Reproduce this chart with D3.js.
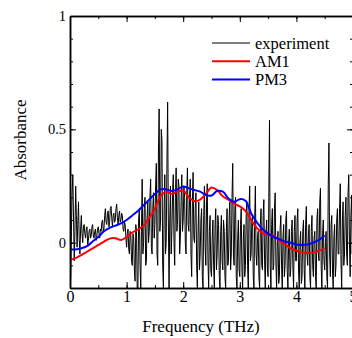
<!doctype html>
<html lang="en">
<head>
  <style>
    body { margin: 0; background: #fff; }
  </style>
  <script src="https://d3js.org/d3.v7.min.js"></script>
</head>
<body>
  <script>
    // experiment: sampled every 0.0125 THz from 0 to 5 (one row = 0.25 THz)
    const expStep = 0.0125;
    const expValues = [
      -0.20, -0.15, 0.05, 0.22, 0.30, 0.10, -0.08, 0.05, 0.25, 0.12, -0.02, 0.08, 0.18, 0.02, -0.05, 0.06, 0.12, 0.04, 0.00, 0.07,
      0.08, 0.04, 0.02, 0.06, 0.07, -0.01, 0.01, 0.05, 0.06, 0.02, 0.03, 0.07, 0.08, 0.03, 0.02, 0.05, 0.06, 0.01, 0.03, 0.06,
      0.07, 0.04, 0.02, 0.06, 0.05, 0.09, 0.10, 0.05, 0.06, 0.12, 0.15, 0.09, 0.08, 0.13, 0.14, 0.07, 0.09, 0.15, 0.16, 0.11,
      0.07, 0.12, 0.13, 0.09, 0.10, 0.15, 0.17, 0.11, 0.08, 0.12, 0.14, 0.09, 0.10, 0.13, 0.12, 0.06, 0.05, 0.09, 0.08, 0.02,
      -0.02, 0.04, 0.06, -0.03, -0.05, 0.05, 0.03, -0.08, -0.10, 0.04, 0.02, -0.12, -0.17, 0.08, 0.05, -0.20, -0.20, 0.10, 0.15, -0.10,
      -0.20, 0.05, 0.28, -0.05, 0.00, 0.15, 0.20, -0.10, -0.08, 0.12, 0.18, 0.00, 0.05, 0.20, 0.28, -0.02, -0.05, 0.15, 0.22, 0.02,
      0.08, 0.25, 0.35, -0.05, -0.10, 0.40, 0.59, 0.05, 0.10, 0.50, 0.45, -0.10, -0.20, 0.15, 0.30, -0.05, 0.00, 0.35, 0.62, 0.10,
      -0.20, 0.10, 0.25, -0.05, 0.05, 0.22, 0.30, 0.00, -0.10, 0.20, 0.33, 0.05, 0.08, 0.28, 0.25, -0.05, 0.02, 0.18, 0.30, 0.05,
      0.10, 0.25, 0.20, 0.00, -0.05, 0.22, 0.33, 0.08, 0.05, 0.20, 0.28, -0.05, -0.15, 0.18, 0.31, 0.02, 0.00, 0.15, 0.22, -0.10,
      -0.20, 0.05, 0.18, -0.12, -0.05, 0.10, 0.15, -0.15, -0.20, 0.12, 0.25, -0.02, -0.10, 0.18, 0.26, -0.08, -0.20, 0.05, 0.12, -0.12,
      -0.15, 0.02, 0.10, -0.10, -0.20, 0.08, 0.15, -0.12, -0.05, 0.12, 0.08, -0.15, -0.20, 0.05, 0.12, -0.08, -0.12, 0.10, 0.05, -0.15,
      -0.20, 0.05, 0.15, -0.10, -0.08, 0.12, 0.18, -0.12, -0.05, 0.20, 0.35, -0.05, -0.10, 0.15, 0.20, -0.15, -0.20, 0.02, 0.10, -0.12,
      -0.15, 0.08, 0.15, -0.12, -0.20, 0.02, 0.08, -0.15, -0.10, 0.12, 0.18, -0.10, -0.20, 0.15, 0.25, -0.08, -0.05, 0.10, 0.12, -0.15,
      -0.20, 0.10, 0.25, -0.05, -0.10, 0.02, 0.05, -0.15, -0.20, 0.08, 0.15, -0.10, -0.12, 0.12, 0.19, -0.08, -0.20, 0.04, 0.10, -0.12,
      -0.15, 0.20, 0.54, -0.10, -0.20, 0.08, 0.15, -0.12, -0.10, 0.15, 0.22, -0.08, -0.20, 0.00, 0.05, -0.18, -0.15, 0.06, 0.12, -0.10,
      -0.20, 0.02, 0.08, -0.15, -0.10, 0.10, 0.14, -0.12, -0.20, 0.00, 0.06, -0.15, -0.12, 0.05, 0.10, -0.10, -0.20, 0.05, 0.12, -0.08,
      -0.08, 0.10, 0.15, -0.12, -0.20, 0.00, 0.05, -0.18, -0.15, 0.05, 0.10, -0.12, -0.20, 0.08, 0.16, -0.05, -0.10, 0.04, 0.08, -0.15,
      -0.20, 0.05, 0.12, -0.10, -0.15, 0.02, 0.05, -0.15, -0.20, 0.10, 0.15, -0.05, -0.08, 0.18, 0.24, -0.10, -0.20, 0.04, 0.10, -0.08,
      -0.12, 0.00, 0.05, -0.15, -0.20, 0.25, 0.44, -0.05, -0.15, 0.08, 0.12, -0.12, -0.20, 0.02, 0.08, -0.15, -0.10, 0.10, 0.15, -0.05,
      -0.05, 0.15, 0.26, -0.08, -0.20, 0.10, 0.18, -0.10, -0.05, 0.12, 0.20, -0.05, -0.10, 0.22, 0.30, 0.00, -0.15, 0.12, 0.21, -0.05,
      0.05
    ];

    // calculated spectra: every 0.1 THz from 0 to 4.5
    const calcStep = 0.1;
    const am1Values = [
      -0.075, -0.068, -0.055, -0.040, -0.025, -0.010, 0.005, 0.018, 0.020, 0.012,
      0.025, 0.045, 0.058, 0.075, 0.110, 0.150, 0.205, 0.225, 0.215, 0.225,
      0.230, 0.200, 0.183, 0.190, 0.215, 0.243, 0.232, 0.205, 0.190, 0.172,
      0.160, 0.140, 0.100, 0.065, 0.042, 0.035, 0.030, 0.010, -0.008, -0.025,
      -0.035, -0.043, -0.046, -0.044, -0.035, -0.025
    ];
    const pm3Values = [
      -0.030, -0.030, -0.025, -0.015, 0.005, 0.025, 0.050, 0.065, 0.075, 0.085,
      0.100, 0.120, 0.140, 0.165, 0.190, 0.215, 0.235, 0.235, 0.228, 0.235,
      0.248, 0.240, 0.232, 0.225, 0.210, 0.208, 0.228, 0.225, 0.195, 0.180,
      0.192, 0.185, 0.130, 0.090, 0.060, 0.040, 0.025, 0.015, 0.005, 0.000,
      -0.008, -0.010, -0.008, 0.000, 0.012, 0.032
    ];

    const xTickLabels = [0, 1, 2, 3, 4, 5];
    const yTickLabels = [0, 0.5, 1];
    const legendNames = ["experiment", "AM1", "PM3"];
    const legendColors = ["#000", "#ff0000", "#0000ff"];

    const FONT = "'Liberation Serif', 'Times New Roman', serif";

    const W = 352, H = 338;
    const margin = { top: 16, right: -1, bottom: 50, left: 70 };

    const x = d3.scaleLinear().domain([0, 5]).range([margin.left, W - margin.right]);
    const y = d3.scaleLinear().domain([-0.2, 1]).range([H - margin.bottom, margin.top]);

    const svg = d3.select("body").append("svg")
      .attr("width", W).attr("height", H)
      .attr("font-family", FONT);

    svg.append("defs").append("clipPath").attr("id", "plot")
      .append("rect")
      .attr("x", x(0)).attr("y", y(1))
      .attr("width", x(5) - x(0)).attr("height", y(-0.2) - y(1));

    const expData = expValues.map((v, i) => [i * expStep, v]);
    const am1Data = am1Values.map((v, i) => [i * calcStep, v]);
    const pm3Data = pm3Values.map((v, i) => [i * calcStep, v]);

    const plot = svg.append("g").attr("clip-path", "url(#plot)");

    plot.append("path")
      .datum(expData)
      .attr("fill", "none")
      .attr("stroke", legendColors[0])
      .attr("stroke-width", 1)
      .attr("d", d3.line().x(d => x(d[0])).y(d => y(d[1])));

    const smooth = d3.line().x(d => x(d[0])).y(d => y(d[1])).curve(d3.curveCatmullRom);

    plot.append("path")
      .datum(am1Data)
      .attr("fill", "none")
      .attr("stroke", legendColors[1])
      .attr("stroke-width", 2)
      .attr("d", smooth);

    plot.append("path")
      .datum(pm3Data)
      .attr("fill", "none")
      .attr("stroke", legendColors[2])
      .attr("stroke-width", 2)
      .attr("d", smooth);

    // axes: ticks point inward on every side
    const xMinor = d3.range(0, 5.01, 0.5);
    const yMinor = d3.range(-0.2, 1.001, 0.1);

    function styleAxis(size) {
      return g => {
        g.attr("font-family", null);
        g.select(".domain").attr("stroke-width", 1.5);
        g.selectAll(".tick line").attr("stroke-width", 1);
        g.selectAll(".tick text").style("font-size", size + "px");
      };
    }

    svg.append("g")
      .attr("transform", `translate(0,${y(-0.2)})`)
      .call(d3.axisBottom(x).tickValues(xMinor).tickSize(-3).tickSizeOuter(0).tickFormat(""))
      .call(styleAxis(16));
    svg.append("g")
      .attr("transform", `translate(0,${y(-0.2)})`)
      .call(d3.axisBottom(x).tickValues(xTickLabels).tickSize(-6).tickSizeOuter(0).tickPadding(3).tickFormat(d3.format("d")))
      .call(styleAxis(16));

    svg.append("g")
      .attr("transform", `translate(0,${y(1)})`)
      .call(d3.axisTop(x).tickValues(xMinor).tickSize(-3).tickSizeOuter(0).tickFormat(""))
      .call(styleAxis(16));
    svg.append("g")
      .attr("transform", `translate(0,${y(1)})`)
      .call(d3.axisTop(x).tickValues(xTickLabels).tickSize(-6).tickSizeOuter(0).tickFormat(""))
      .call(styleAxis(16));

    svg.append("g")
      .attr("transform", `translate(${x(0)},0)`)
      .call(d3.axisLeft(y).tickValues(yMinor).tickSize(-3).tickSizeOuter(0).tickFormat(""))
      .call(styleAxis(14.5));
    svg.append("g")
      .attr("transform", `translate(${x(0)},0)`)
      .call(d3.axisLeft(y).tickValues(yTickLabels).tickSize(-6).tickSizeOuter(0).tickPadding(4).tickFormat(d3.format("")))
      .call(styleAxis(14.5));

    svg.append("g")
      .attr("transform", `translate(${x(5)},0)`)
      .call(d3.axisRight(y).tickValues(yMinor).tickSize(-3).tickSizeOuter(0).tickFormat(""))
      .call(styleAxis(14.5));
    svg.append("g")
      .attr("transform", `translate(${x(5)},0)`)
      .call(d3.axisRight(y).tickValues(yTickLabels).tickSize(-6).tickSizeOuter(0).tickFormat(""))
      .call(styleAxis(14.5));

    // axis titles
    svg.append("text")
      .attr("x", 201)
      .attr("y", 332)
      .attr("text-anchor", "middle")
      .style("font-size", "17px")
      .text("Frequency (THz)");

    svg.append("text")
      .attr("transform", "translate(26,140) rotate(-90)")
      .attr("text-anchor", "middle")
      .style("font-size", "17px")
      .text("Absorbance");

    // legend
    const legend = svg.append("g").attr("transform", "translate(212,43)");
    legendNames.forEach((name, i) => {
      const row = legend.append("g").attr("transform", `translate(0,${i * 18.3})`);
      row.append("line")
        .attr("x1", 0).attr("x2", 38)
        .attr("stroke", legendColors[i])
        .attr("stroke-width", i === 0 ? 1 : 2);
      row.append("text")
        .attr("x", 43).attr("y", 5.5)
        .style("font-size", "16.5px")
        .text(name);
    });
  </script>
</body>
</html>
